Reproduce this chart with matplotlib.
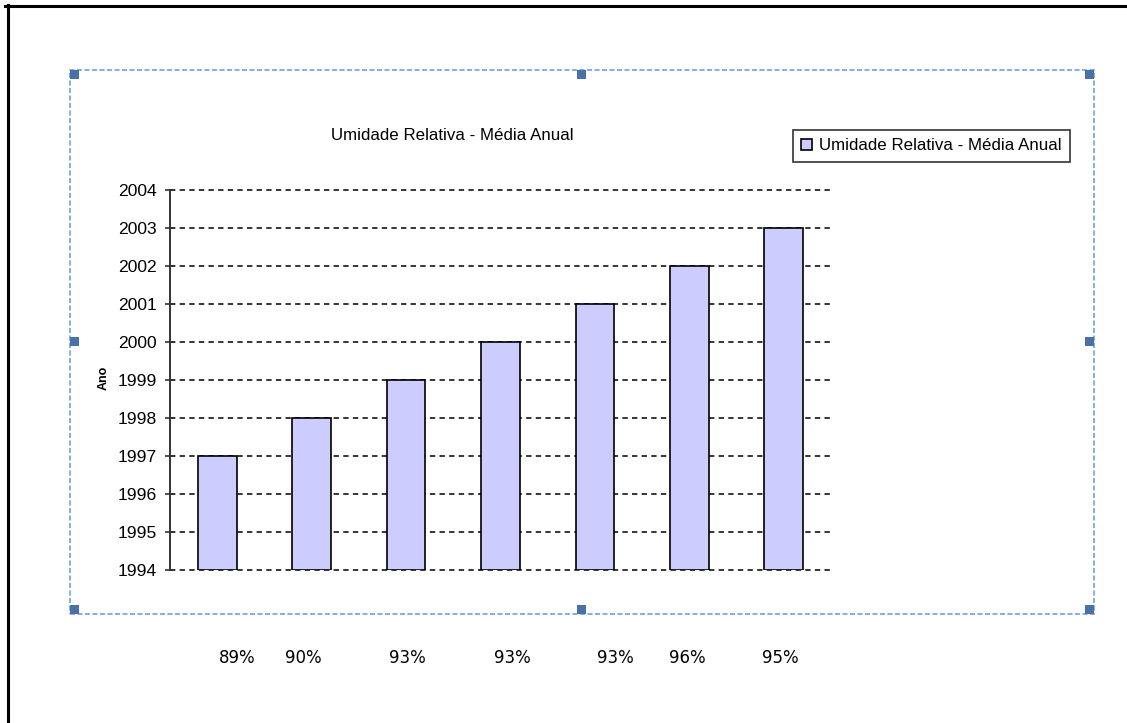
import matplotlib
matplotlib.use("Agg")
import matplotlib.pyplot as plt
from matplotlib.lines import Line2D
from matplotlib.patches import Rectangle
import numpy as np

plt.rcParams["font.family"] = ["Liberation Sans", "DejaVu Sans"]

# dados
anos = [1997, 1998, 1999, 2000, 2001, 2002, 2003]
base_ano = 1994
y_ticks = list(range(1994, 2005))
umidade = ["89%", "90%", "93%", "93%", "93%", "96%", "95%"]
umidade_x = [237, 303, 407, 512, 615, 687, 780]  # posicao em px das legendas de texto

titulo = "Umidade Relativa - Média Anual"
W, H = 1127, 723

fig = plt.figure(figsize=(W / 100, H / 100), dpi=100)
ax = fig.add_axes([170 / W, 1 - 569.5 / H, 661 / W, 380 / H])

x = np.arange(len(anos))
alturas = [a - base_ano for a in anos]
ax.bar(x, alturas, bottom=base_ano, width=0.41, color="#CCCCFF",
       edgecolor="black", linewidth=1.2, zorder=3, label=titulo)

ax.set_xlim(-0.5, len(anos) - 0.5)
ax.set_ylim(base_ano, 2004)
ax.set_yticks(y_ticks)
ax.set_xticks([])
ax.yaxis.grid(True, color="black", linewidth=1.1, linestyle=(0, (3.5, 2.8)), zorder=1)
for gl in ax.get_ygridlines():
    gl.set_clip_on(False)
for s in ["top", "right", "bottom"]:
    ax.spines[s].set_visible(False)
ax.spines["left"].set_color("#333333")
ax.spines["left"].set_linewidth(1.4)
ax.tick_params(axis="y", direction="inout", length=7, width=1.2, pad=6,
               labelsize=12.6, color="#333333")

fig.text(452 / W, 1 - 135 / H, titulo, ha="center", va="center", fontsize=12.2)
fig.text(104 / W, 1 - 378 / H, "Ano", rotation=90, ha="center", va="center",
         fontsize=9, fontweight="bold")

leg = ax.legend(loc="upper left", bbox_to_anchor=(793 / W, 1 - 130 / H),
                bbox_transform=fig.transFigure, fontsize=12.2, frameon=True,
                fancybox=False, borderaxespad=0, handlelength=0.65, handleheight=0.65,
                handletextpad=0.4, borderpad=0.5)
leg.get_frame().set_edgecolor("black")
leg.get_frame().set_linewidth(1.2)

for px, txt in zip(umidade_x, umidade):
    fig.text(px / W, 1 - 658 / H, txt, ha="center", va="center",
             fontsize=12, family=["DejaVu Sans"], color="black")

# moldura da pagina
fig.add_artist(Line2D([5 / W, 1], [1 - 5.5 / H] * 2, color="black", linewidth=2.2,
                      transform=fig.transFigure))
fig.add_artist(Line2D([8 / W] * 2, [0, 1 - 5 / H], color="black", linewidth=2.2,
                      transform=fig.transFigure))

# caixa de selecao do grafico
x0, y0, x1, y1 = 69.5, 69.5, 1094, 614
fig.add_artist(Rectangle((x0 / W, 1 - y1 / H), (x1 - x0) / W, (y1 - y0) / H,
                         transform=fig.transFigure, fill=False, edgecolor="#6F9FE0",
                         linewidth=1.2, linestyle=(0, (3, 1.5))))
xm, ym = (x0 + x1) / 2, (y0 + y1) / 2
ha = 9  # lado do marcador
for hx, hy in [(x0, y0), (xm - ha / 2, y0), (x1 - ha, y0),
               (x0, ym - ha / 2), (x1 - ha, ym - ha / 2),
               (x0, y1 - ha), (xm - ha / 2, y1 - ha), (x1 - ha, y1 - ha)]:
    fig.add_artist(Rectangle((hx / W, 1 - (hy + ha) / H), ha / W, ha / H,
                             transform=fig.transFigure, facecolor="#4A70A8",
                             edgecolor="none"))

fig.savefig("out.png", dpi=100)
